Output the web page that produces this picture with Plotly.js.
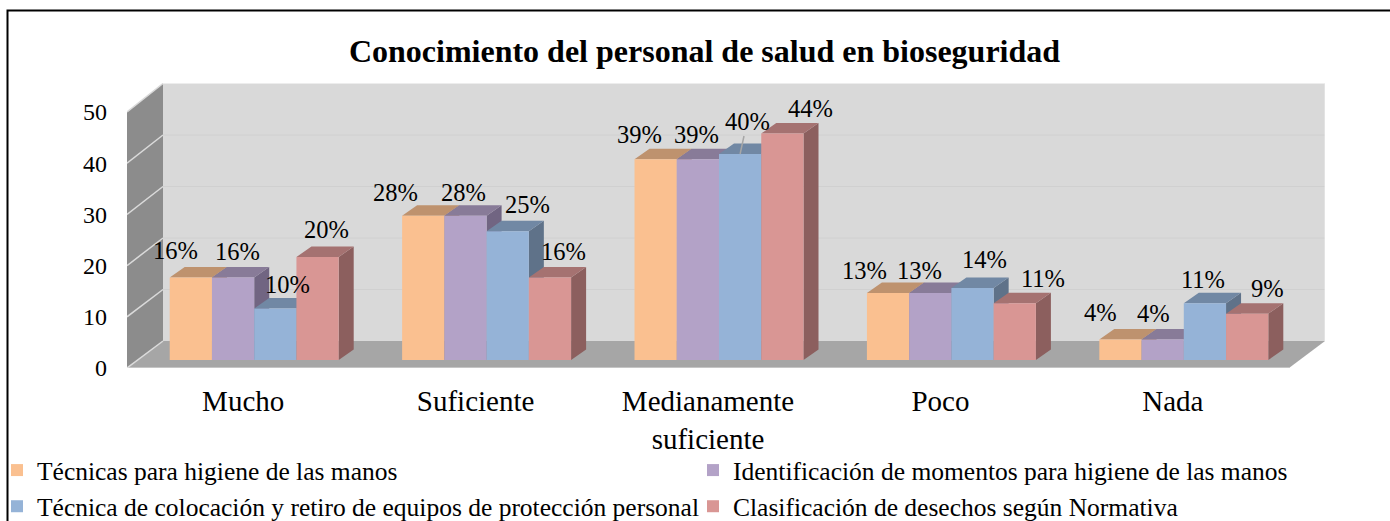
<!DOCTYPE html>
<html><head><meta charset="utf-8">
<script src="https://cdn.plot.ly/plotly-3.0.1.min.js"></script>
<style>html,body{margin:0;padding:0;background:#fff;overflow:hidden}#c{width:1390px;height:521px}</style>
</head><body><div id="c"></div>
<script>
// ---------- data ----------
const categories = ["Mucho", "Suficiente", "Medianamente<br>suficiente", "Poco", "Nada"];
const tecnicasHigiene = [16, 28, 39, 13, 4];
const momentosHigiene = [16, 28, 39, 13, 4];
const equiposProteccion = [10, 25, 40, 14, 11];
const clasificacionDesechos = [20, 16, 44, 11, 9];
const seriesNames = ["Técnicas para higiene de las manos",
  "Identificación de momentos para higiene de las manos",
  "Técnica de colocación y retiro de equipos de protección personal",
  "Clasificación de desechos según Normativa"];
const yTicks = [0, 10, 20, 30, 40, 50];
const chartTitle = "Conocimiento del personal de salud en bioseguridad";

// ---------- styling / layout ----------
const seriesValues = [tecnicasHigiene, momentosHigiene, equiposProteccion, clasificacionDesechos];
const frontColors = ["#FAC090", "#B3A2C7", "#95B3D7", "#D99694"];
const topColors = ["#BE926E", "#887B98", "#7188A4", "#A57271"];
const sideColors = ["#A07B5C", "#716582", "#5F7289", "#8C5F5E"];
const legendOfSeries = ["legend", "legend2", "legend", "legend2"];
const FONT = '"Liberation Serif","Times New Roman",serif';
const W = 1390, H = 521;
const plotL = 127, plotR = 1325, plotT = 83, plotB = 368;
const catPx = 232.4, catZeroPx = 243.2;          // px per category, px of first label
const xRange = [(plotL - catZeroPx) / catPx, (plotR - catZeroPx) / catPx];
const frontPx = 5.12, barPx = 5.15, barBase = 360, barShiftPx = 11;
const yRange = [0, (plotB - plotT) / frontPx];
const y2Range = [(barBase - plotB) / barPx, (barBase - plotT) / barPx];
const barShift = barShiftPx / catPx;
const x2Range = [xRange[0] - barShift, xRange[1] - barShift];
const wallDx = 36 / catPx;
const backY = v => (27 + (5.15 * v)) / frontPx;   // height of a back-wall value on the front scale
const xL = xRange[0], xLb = xL + wallDx, xRb = xRange[1], xRf = xRb - wallDx;
const barW = 42.25 / catPx, barDx = 15 / catPx, barDy = 10.5 / barPx;
const px = x => (x - plotL) / (plotR - plotL);
const py = y => (plotB - y) / (plotB - plotT);

// label offsets from the bar's top centre, px (series by category)
const nudgeX = [[-15.6, -28, -16.4, -24, -20], [4.1, -2.3, -1.7, -11, -9.5], [11.9, 19.5, 7.1, 12, -1.7], [8.6, 13.2, 27.8, 28, 20]];
const nudgeY = [[27, 23, 25, 23, 27], [26, 23, 25, 23, 26], [24, 27, 33, 28, 24], [28, 26, 24.5, 25, 25]];

const traces = [];
const poly = (xs, ys, color, xa, ya) => ({type: "scatter", mode: "lines", x: xs, y: ys, fill: "toself", fillcolor: color,
  line: {width: 0, color: color}, xaxis: xa, yaxis: ya, hoverinfo: "skip", showlegend: false});
const segment = (xs, ys, color, w) => ({type: "scatter", mode: "lines", x: xs, y: ys, line: {width: w, color: color},
  xaxis: "x", yaxis: "y", hoverinfo: "skip", showlegend: false});

// walls
const yMax = yTicks[yTicks.length - 1];
traces.push(poly([xLb, xRb, xRb, xLb, xLb], [backY(0), backY(0), backY(yMax), backY(yMax), backY(0)], "#D9D9D9", "x", "y"));
traces.push(poly([xL, xLb, xLb, xL, xL], [0, backY(0), backY(yMax), yMax, 0], "#8C8C8C", "x", "y"));
traces.push(poly([xL, xRf, xRb, xLb, xL], [0, 0, backY(0), backY(0), 0], "#A6A6A6", "x", "y"));
yTicks.forEach(v => {
  if (v > 0) traces.push(segment([xLb, xRb], [backY(v), backY(v)], "#D0D0D0", 1));
  traces.push(segment([xL, xLb], [v, backY(v)], "#DADADA", 1.5));
});
traces.push(segment([xL, xRf], [0, 0], "#E4E4E4", 1));
traces.push(segment([xRb, xRb], [backY(0), backY(yMax)], "#EDEDED", 1));
traces.push(segment([xLb, xRb], [backY(yMax), backY(yMax)], "#EDEDED", 1));

// depth faces, left to right
seriesValues.forEach((vals, s) => {
  const sx = [], sy = [], tx = [], ty = [];
  vals.forEach((v, c) => {
    const x0 = c + (s - 2) * barW, x1 = x0 + barW;
    sx.push(x1, x1 + barDx, x1 + barDx, x1, x1, null);
    sy.push(0, barDy, v + barDy, v, 0, null);
    tx.push(x0, x1, x1 + barDx, x0 + barDx, x0, null);
    ty.push(v, v, v + barDy, v + barDy, v, null);
  });
  traces.push(poly(sx, sy, sideColors[s], "x2", "y2"));
  traces.push(poly(tx, ty, topColors[s], "x2", "y2"));
});

// front faces
seriesValues.forEach((vals, s) => {
  traces.push({type: "bar", name: seriesNames[s], x: categories.map((_, i) => i), y: vals,
    marker: {color: frontColors[s], line: {width: 0}}, xaxis: "x3", yaxis: "y3",
    legend: legendOfSeries[s],
    hovertemplate: "%{y}%<extra>" + seriesNames[s] + "</extra>"});
});

// data labels
const annotations = [];
seriesValues.forEach((vals, s) => vals.forEach((v, c) => {
  const a = {x: c + (s - 1.5) * barW, y: v, xref: "x3", yref: "y3", text: v + "%", showarrow: false,
    font: {family: FONT, size: 24.5, color: "#000"}, xanchor: "center", yanchor: "middle",
    xshift: nudgeX[s][c], yshift: nudgeY[s][c]};
  if (s === 2 && c === 2) {
    delete a.xshift; delete a.yshift;
    Object.assign(a, {showarrow: true, arrowhead: 0, arrowwidth: 1.5, arrowcolor: "#A6A6A6", ax: nudgeX[s][c], ay: -nudgeY[s][c], standoff: 0});
  }
  annotations.push(a);
}));

const hidden = (range, extra) => Object.assign({visible: false, range: range, fixedrange: true}, extra);
const legendBase = {orientation: "h", xref: "container", yref: "container", xanchor: "left", y: 1 - 447 / H, yanchor: "top",
  font: {family: FONT, size: 25.5, color: "#000"}, traceorder: "normal", indentation: -8, entrywidthmode: "pixels",
  bgcolor: "rgba(0,0,0,0)", borderwidth: 0};
const layout = {
  width: W, height: H, autosize: false,
  margin: {l: plotL, r: W - plotR, t: plotT, b: H - plotB, pad: 0},
  paper_bgcolor: "#fff", plot_bgcolor: "rgba(0,0,0,0)",
  font: {family: FONT, color: "#000"},
  title: {text: "<b>" + chartTitle + "</b>", font: {family: FONT, size: 32, color: "#000"},
    xref: "container", yref: "container", x: 704.5 / W, xanchor: "center", y: 1 - 51 / H, yanchor: "middle"},
  barmode: "group", bargap: 0.273, bargroupgap: 0,
  xaxis: {range: xRange, tickvals: categories.map((_, i) => i), ticktext: categories, showgrid: false, zeroline: false,
    showline: false, ticks: "", ticklabelstandoff: 13, tickfont: {family: FONT, size: 29, color: "#000"}, fixedrange: true},
  yaxis: {range: yRange, tickvals: yTicks, showgrid: false, zeroline: false, showline: false, ticks: "",
    ticklabelstandoff: 19, tickfont: {family: FONT, size: 24, color: "#000"}, fixedrange: true},
  xaxis2: hidden(x2Range, {overlaying: "x"}),
  yaxis2: hidden(y2Range, {overlaying: "y"}),
  xaxis3: hidden(x2Range, {overlaying: "x"}),
  yaxis3: hidden(y2Range, {overlaying: "y"}),
  annotations: annotations,
  shapes: [{type: "rect", xref: "paper", yref: "paper", x0: px(7.5), x1: px(1400), y0: py(10.5), y1: py(535),
    line: {color: "#000", width: 2}, fillcolor: "rgba(0,0,0,0)", layer: "below"}],
  legend: Object.assign({x: 5 / W, entrywidth: 690}, legendBase),
  legend2: Object.assign({x: 701 / W, entrywidth: 640}, legendBase)
};
Plotly.newPlot("c", traces, layout, {displayModeBar: false, staticPlot: true});
</script></body></html>
